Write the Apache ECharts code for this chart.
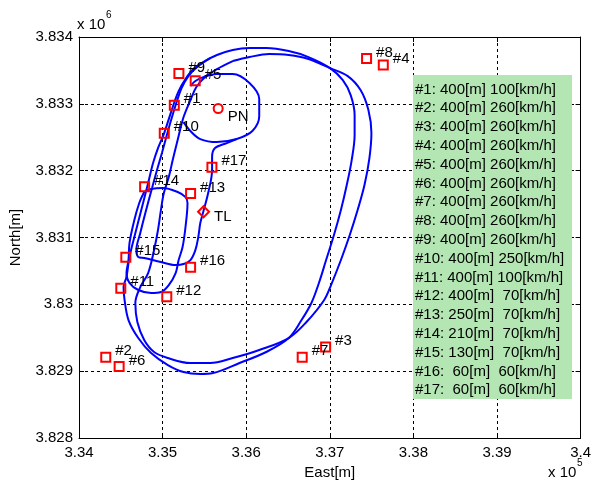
<!DOCTYPE html>
<html>
<head>
<meta charset="utf-8">
<script src="https://cdn.jsdelivr.net/npm/echarts@6/dist/echarts.min.js"></script>
<style>html,body{margin:0;padding:0;background:#fff;}#c{width:594px;height:485px;}</style>
</head>
<body>
<div id="c"></div>
<script>
// ---- data (East [m], North [m]) ----
const markerNames = ['#1','#2','#3','#4','#5','#6','#7','#8','#9','#10','#11','#12','#13','#14','#15','#16','#17'];
const markerEast  = [335140,334320,336950,337640,335390,334480,336670,337440,335195,335020,334500,335050,335335,334785,334560,335335,335590];
const markerNorth = [3832980,3829210,3829360,3833580,3833345,3829070,3829210,3833680,3833455,3832560,3830240,3830115,3831660,3831760,3830705,3830555,3832050];
const pnPoint = [335665, 3832930];
const tlPoint = [335490, 3831385];

const lapOuterTrack = [
 [335133,3832997],[335192,3833191],[335274,3833371],[335368,3833520],[335486,3833625],[335650,3833730],
 [335839,3833805],[336039,3833834],[336239,3833834],[336509,3833790],[336745,3833700],[337003,3833535],
 [337156,3833356],[337250,3833131],[337297,3832832],[337297,3832533],[337262,3832159],[337203,3831785],
 [337133,3831411],[337050,3831037],[336956,3830663],[336874,3830334],[336780,3830020],[336662,3829765],
 [336509,3829496],[336239,3829287],[335921,3829122],[335604,3828972],[335451,3828958],[335251,3828987],
 [335063,3829092],[334862,3829272],[334709,3829496],[334592,3829765],[334545,3830065],[334533,3830259],
 [334568,3830409],[334604,3830708],[334662,3831007],[334745,3831411],[334827,3831815],[334886,3832114],
 [334945,3832338],[335015,3832548],[335074,3832772],[335133,3832997]
];
const lapInnerTrack = [
 [335839,3833640],[335650,3833520],[335509,3833400],[335404,3833251],[335333,3833056],[335251,3832802],
 [335180,3832458],[335121,3832159],[335074,3831905],[335015,3831665],[334980,3831411],[334945,3831112],
 [334898,3830812],[334827,3830468],[334733,3830259],[334674,3830020],[334698,3829735],[334780,3829466],
 [334898,3829287],[335063,3829197],[335333,3829122],[335568,3829122],[335839,3829197],[336156,3829317],
 [336509,3829496],[336721,3829735],[336933,3830065],[337015,3830289],[337133,3830663],[337239,3831037],
 [337333,3831411],[337415,3831785],[337474,3832189],[337498,3832563],[337462,3832907],[337368,3833206],
 [337215,3833415],[337003,3833535],[336745,3833670],[336509,3833730],[336274,3833745],[336039,3833700],
 [335839,3833640]
];
const connectorTrack = [
 [335568,3833685],[335427,3833565],[335309,3833415],[335227,3833236],[335168,3833027],[335109,3832787],
 [335051,3832533],[334992,3832264],[334933,3832009],[334874,3831740],[334803,3831411],[334733,3831067],
 [334686,3830812],[334709,3830708],[334780,3830693],[334980,3830633],[335156,3830588],[335251,3830603],
 [335333,3830663],[335392,3830812],[335427,3831007],[335451,3831216],[335486,3831381],[335545,3831665],
 [335592,3832009],[335592,3832204],[335627,3832338],[335768,3832413],[335886,3832473]
];
const pnLoopTrack = [
 [335251,3832727],[335333,3832593],[335451,3832473],[335650,3832428],[335886,3832473],[336074,3832593],
 [336156,3832817],[336156,3833071],[336039,3833311],[335839,3833445],[335650,3833445],[335486,3833400],
 [335392,3833341],[335333,3833266]
];
const handlingLoopTrack = [
 [334780,3831680],[334862,3831725],[335004,3831740],[335180,3831680],[335274,3831605],[335298,3831516],
 [335274,3831157],[335239,3830857],[335192,3830663],[335156,3830468],[335074,3830289],[334980,3830184],
 [334862,3830169],[334709,3830214],[334604,3830319],[334568,3830468],[334592,3830663],[334604,3830917],
 [334662,3831261],[334721,3831516],[334780,3831680]
];
const specLines = [
 '#1: 400[m] 100[km/h]','#2: 400[m] 260[km/h]','#3: 400[m] 260[km/h]','#4: 400[m] 260[km/h]',
 '#5: 400[m] 260[km/h]','#6: 400[m] 260[km/h]','#7: 400[m] 260[km/h]','#8: 400[m] 260[km/h]',
 '#9: 400[m] 260[km/h]','#10: 400[m] 250[km/h]','#11: 400[m] 100[km/h]','#12: 400[m]  70[km/h]',
 '#13: 250[m]  70[km/h]','#14: 210[m]  70[km/h]','#15: 130[m]  70[km/h]','#16:  60[m]  60[km/h]',
 '#17:  60[m]  60[km/h]'
];

// ---- chart ----
const FONT = '"Liberation Sans", Arial, sans-serif';
const chart = echarts.init(document.getElementById('c'), null, {renderer:'canvas'});
const trackStyle = {color:'#0000ff', width:2};
function track(d){ return {type:'line', data:d, showSymbol:false, smooth:0.35, lineStyle:trackStyle, z:2, silent:true}; }
const fmtX = v => String(+(v/1e5).toFixed(2));
const fmtY = v => String(+(v/1e6).toFixed(3));
const gridLine = {show:true, lineStyle:{color:'#000', width:1, type:[3,3]}};
const axisCommon = {axisLine:{show:true, onZero:false, lineStyle:{color:'#000', width:1}},
  axisTick:{show:true, inside:true, length:5, lineStyle:{color:'#000'}}};
const markStyle = {color:'rgba(0,0,0,0)', borderColor:'#ff0000', borderWidth:2, opacity:1};

chart.setOption({
  animation:false,
  backgroundColor:'#fff',
  grid:{left:77, top:37, width:510, height:401, containLabel:false},
  xAxis:[
    Object.assign({type:'value', min:334000, max:340000, interval:1000, position:'bottom',
      name:'East[m]', nameLocation:'middle', nameGap:26,
      nameTextStyle:{color:'#000', fontSize:15, fontFamily:FONT},
      axisLabel:{color:'#000', fontSize:15, fontFamily:FONT, margin:7, formatter:fmtX},
      splitLine:gridLine}, axisCommon),
    Object.assign({type:'value', min:334000, max:340000, interval:1000, position:'top',
      axisLabel:{show:false}, splitLine:{show:false}}, axisCommon)
  ],
  yAxis:[
    Object.assign({type:'value', min:3828000, max:3834000, interval:1000, position:'left',
      name:'North[m]', nameLocation:'middle', nameGap:56, nameRotate:90,
      nameTextStyle:{color:'#000', fontSize:15, fontFamily:FONT},
      axisLabel:{color:'#000', fontSize:15, fontFamily:FONT, margin:6, formatter:fmtY},
      splitLine:gridLine}, axisCommon),
    Object.assign({type:'value', min:3828000, max:3834000, interval:1000, position:'right',
      axisLabel:{show:false}, splitLine:{show:false}}, axisCommon)
  ],
  series:[
    track(lapOuterTrack), track(lapInnerTrack), track(connectorTrack), track(pnLoopTrack), track(handlingLoopTrack),
    {type:'scatter', z:5, symbol:'rect', symbolSize:9, itemStyle:markStyle,
      label:{show:true, position:'right', distance:4, offset:[0,-6], color:'#000', fontSize:15, fontFamily:FONT,
        formatter:p=>p.name},
      data:markerNames.map((n,i)=>({name:n, value:[markerEast[i], markerNorth[i]]}))},
    {type:'scatter', z:5, symbol:'circle', symbolSize:9, itemStyle:markStyle,
      label:{show:true, position:'right', distance:4, offset:[0,8], color:'#000', fontSize:15, fontFamily:FONT, formatter:'PN'},
      data:[{name:'PN', value:pnPoint}]},
    {type:'scatter', z:5, symbol:'diamond', symbolSize:11, itemStyle:markStyle,
      label:{show:true, position:'right', distance:4, offset:[0,5], color:'#000', fontSize:15, fontFamily:FONT, formatter:'TL'},
      data:[{name:'TL', value:tlPoint}]}
  ],
  graphic:[
    {type:'rect', z:10, shape:{x:413, y:75, width:159, height:324}, style:{fill:'rgb(179,230,179)'}},
    {type:'text', z:11, x:415, y:80, style:{text:specLines.join('\n'), fill:'#000', font:'15px '+FONT, lineHeight:18.8, verticalAlign:'top'}},
    {type:'text', z:11, x:77, y:17, style:{text:'x 10', fill:'#000', font:'15px '+FONT}},
    {type:'text', z:11, x:106, y:10, style:{text:'6', fill:'#000', font:'10px '+FONT}},
    {type:'text', z:11, x:548, y:465, style:{text:'x 10', fill:'#000', font:'15px '+FONT}},
    {type:'text', z:11, x:577, y:458, style:{text:'5', fill:'#000', font:'10px '+FONT}}
  ]
});
</script>
</body>
</html>
